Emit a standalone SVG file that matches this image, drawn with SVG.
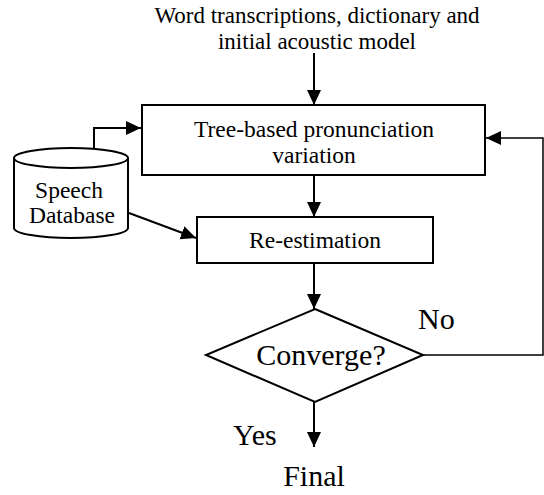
<svg xmlns="http://www.w3.org/2000/svg" width="544" height="495" viewBox="0 0 544 495">
<style>
text{font-family:"Liberation Serif","Times New Roman",serif;fill:#000}
.s{font-size:23.5px}
.t{font-size:23px}
.b{font-size:30px}
.shape{fill:#fff;stroke:#000;stroke-width:2}
.c{fill:none;stroke:#000;stroke-width:2}
</style>
<defs>
<marker id="ah" markerUnits="userSpaceOnUse" markerWidth="16" markerHeight="15" refX="15" refY="7" orient="auto">
<path d="M0,0 L15,7 L0,14 z" fill="#000"/>
</marker>
</defs>
<g id="input">
<text class="t" x="317" y="22.5" text-anchor="middle">Word transcriptions, dictionary and</text>
<text class="t" x="317" y="48.5" text-anchor="middle">initial acoustic model</text>
</g>
<g id="tree">
<rect class="shape" x="142" y="105" width="343" height="70"/>
<text class="s" x="314" y="137" text-anchor="middle">Tree-based pronunciation</text>
<text class="s" x="314" y="163" text-anchor="middle">variation</text>
</g>
<g id="db">
<path class="shape" d="M14,158 L14,228 A57,10 0 0 0 128,228 L128,158"/>
<ellipse class="shape" cx="71" cy="158" rx="57" ry="10"/>
<text class="s" x="69" y="198" text-anchor="middle">Speech</text>
<text class="s" x="72" y="223" text-anchor="middle">Database</text>
</g>
<g id="reest">
<rect class="shape" x="197" y="217" width="236" height="46"/>
<text class="s" x="315" y="248" text-anchor="middle">Re-estimation</text>
</g>
<g id="converge">
<polygon class="shape" points="315,309 423,355 315,402 206,355"/>
<text class="b" x="321" y="365" text-anchor="middle">Converge?</text>
</g>
<g id="final">
<text class="b" x="314" y="486" text-anchor="middle">Final</text>
</g>
<g id="connectors">
<line class="c" x1="314" y1="53" x2="314" y2="105" marker-end="url(#ah)"/>
<polyline class="c" points="94,148 94,128 141,128" marker-end="url(#ah)"/>
<line class="c" x1="129" y1="213" x2="196" y2="238" marker-end="url(#ah)"/>
<line class="c" x1="314" y1="175" x2="314" y2="217" marker-end="url(#ah)"/>
<line class="c" x1="314" y1="263" x2="314" y2="309" marker-end="url(#ah)"/>
<polyline class="c" points="423,355 543,355 543,138 486,138" marker-end="url(#ah)" style="stroke-width:1.5"/>
<line class="c" x1="314" y1="402" x2="314" y2="447" marker-end="url(#ah)"/>
<text class="b" x="418" y="329">No</text>
<text class="b" x="233" y="445">Yes</text>
</g>
</svg>
